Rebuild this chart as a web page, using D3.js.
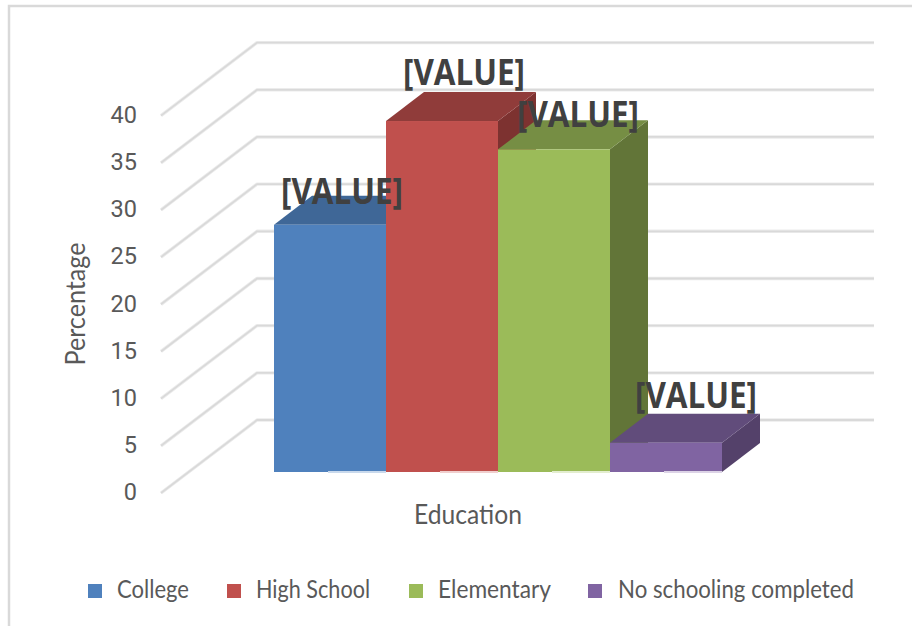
<!DOCTYPE html>
<html>
<head>
<meta charset="utf-8">
<script src="https://cdn.jsdelivr.net/npm/d3@7"></script>
<style>
  html, body { margin: 0; padding: 0; background: #fff; }
  svg { display: block; }
  text { font-family: Lato, "Open Sans", sans-serif; }
</style>
</head>
<body>
<div id="chart"></div>
<script>
const categories = ["College", "High School", "Elementary", "No schooling completed"];
const values = [26.2, 37.2, 34.2, 3.1];
const yTicks = [0, 5, 10, 15, 20, 25, 30, 35, 40];
const valueLabel = "[VALUE]";
const colors = ["#4f81bd", "#c0504d", "#9bbb59", "#8064a2"];
const topColors = ["#3f6797", "#903c3a", "#768e44", "#614c7b"];
const sideColors = ["#355780", "#7d3230", "#627538", "#54416a"];
const tintColors = ["#c9d9ec", "#f0cfce", "#e3edcf", "#dcd3e6"];
const legendWidths = [72, 114, 113, 236];

const width = 912;
const height = 626;

const svg = d3
  .select("#chart")
  .append("svg")
  .attr("width", width)
  .attr("height", height);

// outer frame only shows on top and left
svg.append("path")
  .attr("d", `M9,${height}V6H${width}`)
  .attr("fill", "none")
  .attr("stroke", "#d9d9d9")
  .attr("stroke-width", 2.5);

// front edge of the floor, the wall sits 96px right and 73px up from it
const wall = { dx: 96, dy: -73 };
const y = d3.scaleLinear().domain([0, 40]).range([493, 115.6]);

// bars stand a bit behind the front edge, their own depth is 38/-29
const depth = { dx: 38, dy: -29 };
const barBase = 472;
const barOffset = y(0) - barBase;
const x = d3.scaleBand().domain(categories).range([274, 722]).padding(0);
const barY = (v) => y(v) - barOffset;

const grid = svg.append("g").attr("fill", "none").attr("stroke-linejoin", "round");
grid
  .selectAll("path.grid-soft")
  .data(yTicks)
  .join("path")
  .attr("class", "grid-soft")
  .attr("d", (d) => `M161,${y(d)}L${161 + wall.dx},${y(d) + wall.dy}H874`)
  .attr("stroke", "#ececec")
  .attr("stroke-width", 3.4);
grid
  .selectAll("path.grid-line")
  .data(yTicks)
  .join("path")
  .attr("class", "grid-line")
  .attr("d", (d) => `M161,${y(d)}L${161 + wall.dx},${y(d) + wall.dy}H874`)
  .attr("stroke", "#d9d9d9")
  .attr("stroke-width", 1.8);

svg
  .append("g")
  .selectAll("text")
  .data(yTicks)
  .join("text")
  .attr("x", 137)
  .attr("y", (d) => y(d) - 1)
  .attr("dy", "0.35em")
  .attr("text-anchor", "end")
  .attr("fill", "#595959")
  .style("font-family", "Roboto, sans-serif")
  .style("font-size", "23.5px")
  .text((d) => d);

const bars = svg
  .append("g")
  .selectAll("g")
  .data(categories.map((c, i) => ({ c, i, v: values[i] })))
  .join("g");

bars
  .append("path")
  .attr("fill", (d) => sideColors[d.i])
  .attr("d", (d) => {
    const r = x(d.c) + x.bandwidth();
    return `M${r},${barY(d.v)}l${depth.dx},${depth.dy}V${barBase + depth.dy}L${r},${barBase}Z`;
  });

bars
  .append("path")
  .attr("fill", (d) => topColors[d.i])
  .attr("d", (d) => {
    const top = barY(d.v);
    return `M${x(d.c)},${top}l${depth.dx},${depth.dy}h${x.bandwidth()}l${-depth.dx},${-depth.dy}Z`;
  });

bars
  .append("rect")
  .attr("fill", (d) => colors[d.i])
  .attr("x", (d) => x(d.c))
  .attr("y", (d) => barY(d.v))
  .attr("width", x.bandwidth())
  .attr("height", (d) => barBase - barY(d.v));

// thin pale line under the right half of each bar
bars
  .append("rect")
  .attr("fill", (d) => tintColors[d.i])
  .attr("x", (d) => x(d.c) + 54)
  .attr("y", barBase - 1)
  .attr("width", x.bandwidth() - 54)
  .attr("height", 2);

svg
  .append("g")
  .selectAll("text")
  .data(categories.map((c, i) => ({ c, i, v: values[i] })))
  .join("text")
  .attr("x", (d) => x(d.c) + x.bandwidth() / 2 + [12, 22, 24, 30][d.i])
  .attr("y", (d) => barY(d.v) + [-21, -36, -22, -35][d.i])
  .attr("text-anchor", "middle")
  .attr("fill", "#404040")
  .style("font-family", "'Open Sans', sans-serif")
  .style("font-weight", 700)
  .style("font-size", "36px")
  .attr("textLength", 122)
  .attr("lengthAdjust", "spacingAndGlyphs")
  .text(valueLabel);

svg.append("text")
  .attr("transform", "translate(85,304) rotate(-90)")
  .attr("text-anchor", "middle")
  .attr("fill", "#595959")
  .style("font-size", "26px")
  .attr("textLength", 123)
  .attr("lengthAdjust", "spacingAndGlyphs")
  .text("Percentage");

svg.append("text")
  .attr("x", 468)
  .attr("y", 524)
  .attr("text-anchor", "middle")
  .attr("fill", "#595959")
  .style("font-size", "26px")
  .attr("textLength", 108)
  .attr("lengthAdjust", "spacingAndGlyphs")
  .text("Education");

const legendSwatchX = [88, 227, 409, 588];
const legendTextX = [117, 256, 438, 618];
const legend = svg
  .append("g")
  .selectAll("g")
  .data(categories)
  .join("g");
legend
  .append("rect")
  .attr("x", (_, i) => legendSwatchX[i])
  .attr("y", 584)
  .attr("width", 14)
  .attr("height", 14)
  .attr("fill", (_, i) => colors[i]);
legend
  .append("text")
  .attr("x", (_, i) => legendTextX[i])
  .attr("y", 598)
  .attr("fill", "#595959")
  .style("font-size", "25px")
  .attr("textLength", (_, i) => legendWidths[i])
  .attr("lengthAdjust", "spacingAndGlyphs")
  .text((d) => d);
</script>
</body>
</html>
